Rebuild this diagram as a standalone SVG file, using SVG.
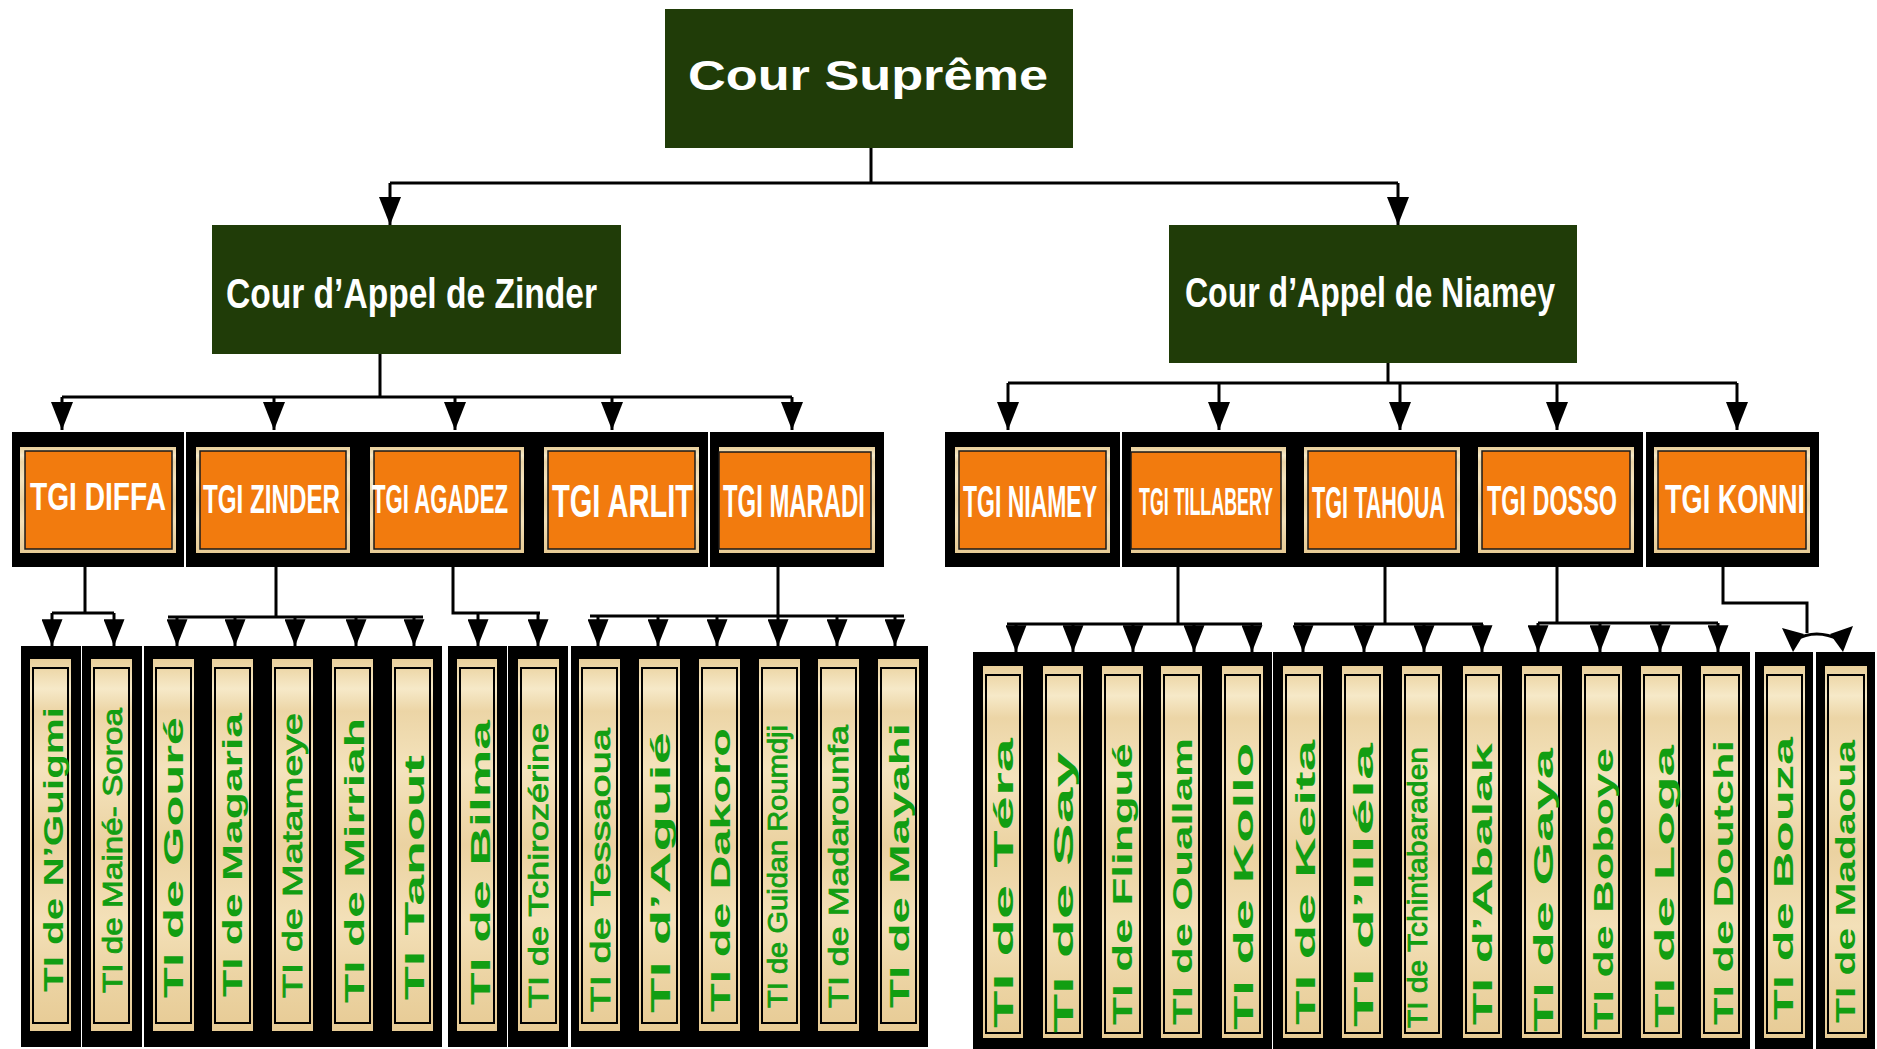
<svg xmlns="http://www.w3.org/2000/svg" width="1877" height="1049" viewBox="0 0 1877 1049">
<defs>
<linearGradient id="tan" x1="0" y1="0" x2="0" y2="1">
<stop offset="0" stop-color="#e9cf9a"/>
<stop offset="0.08" stop-color="#f6e9c8"/>
<stop offset="0.14" stop-color="#ecd5a6"/>
<stop offset="0.3" stop-color="#f4e3bd"/>
<stop offset="0.5" stop-color="#ebd2a1"/>
<stop offset="0.7" stop-color="#f3e0b8"/>
<stop offset="0.85" stop-color="#ecd4a4"/>
<stop offset="1" stop-color="#e7cb95"/>
</linearGradient>
<marker id="arr" viewBox="0 0 28 22" refX="28" refY="11" markerWidth="28" markerHeight="22" markerUnits="userSpaceOnUse" orient="auto">
<path d="M0,0 L28,11 L0,22 z" fill="#000"/>
</marker>
<marker id="arr2" viewBox="0 0 28 22" refX="28" refY="11" markerWidth="27" markerHeight="21" markerUnits="userSpaceOnUse" orient="auto">
<path d="M0,0 L28,11 L0,22 z" fill="#000"/>
</marker>
</defs>
<style>
.court{fill:#203c08}
.court-t{font-family:"Liberation Sans",Arial,sans-serif;font-weight:bold;fill:#fff}
.court-n{font-family:"Liberation Sans",Arial,sans-serif;font-weight:bold;fill:#fff}
.panel{fill:#000}
.frame{fill:url(#tan)}
.orange{fill:#f27b0e;stroke:#1a1a1a;stroke-width:1.5}
.tgi-t{font-family:"Liberation Sans",Arial,sans-serif;font-weight:bold;fill:#fff}
.strip{fill:url(#tan)}
.sline{fill:none;stroke:#000;stroke-width:2}
.ti{font-family:"Liberation Sans",Arial,sans-serif;font-weight:bold;fill:#129e12;font-size:28px}
.ti.n{font-weight:normal;stroke:#129e12;stroke-width:0.8}
.c{fill:none;stroke:#000;stroke-width:3}
.a{fill:none;stroke:#000;stroke-width:3;marker-end:url(#arr)}
.b{fill:none;stroke:#000;stroke-width:3;marker-end:url(#arr2)}
</style>
<rect width="1877" height="1049" fill="#fff"/>

<!-- Level 0 -->
<g id="cour-supreme">
<rect class="court" x="665" y="9" width="408" height="139"/>
<text class="court-t" x="688" y="90" font-size="42" textLength="360" lengthAdjust="spacingAndGlyphs">Cour Suprême</text>
</g>

<!-- Level 1 -->
<g id="ca-zinder">
<rect class="court" x="212" y="225" width="409" height="129"/>
<text class="court-n" transform="translate(226,308) scale(0.8,1)" font-size="42" textLength="463.8" lengthAdjust="spacingAndGlyphs">Cour d’Appel de Zinder</text>
</g>
<g id="ca-niamey">
<rect class="court" x="1169" y="225" width="408" height="138"/>
<text class="court-n" transform="translate(1185,307) scale(0.763,1)" font-size="42" textLength="484.9" lengthAdjust="spacingAndGlyphs">Cour d’Appel de Niamey</text>
</g>

<!-- TGI panels -->
<g id="tgi-panels">
<rect class="panel" x="12" y="432" width="172" height="135"/>
<rect class="panel" x="186" y="432" width="522" height="135"/>
<rect class="panel" x="710" y="432" width="174" height="135"/>
<rect class="panel" x="945" y="432" width="175" height="135"/>
<rect class="panel" x="1122" y="432" width="521" height="135"/>
<rect class="panel" x="1646" y="432" width="173" height="135"/>
</g>

<g id="tgi-diffa"><rect class="frame" x="20" y="447" width="156" height="106"/><rect class="orange" x="25" y="451" width="147" height="98"/>
<text class="tgi-t" transform="translate(30,510) scale(0.713,1)" font-size="39" textLength="190.7" lengthAdjust="spacingAndGlyphs">TGI DIFFA</text></g>
<g id="tgi-zinder"><rect class="frame" x="196" y="447" width="154" height="106"/><rect class="orange" x="200" y="451" width="146" height="98"/>
<text class="tgi-t" transform="translate(203,513) scale(0.59,1)" font-size="41" textLength="232.2" lengthAdjust="spacingAndGlyphs">TGI ZINDER</text></g>
<g id="tgi-agadez"><rect class="frame" x="370" y="447" width="154" height="106"/><rect class="orange" x="374" y="451" width="146" height="98"/>
<text class="tgi-t" transform="translate(372,513) scale(0.538,1)" font-size="41" textLength="252.8" lengthAdjust="spacingAndGlyphs">TGI AGADEZ</text></g>
<g id="tgi-arlit"><rect class="frame" x="544" y="447" width="155" height="106"/><rect class="orange" x="548" y="451" width="147" height="98"/>
<text class="tgi-t" transform="translate(552,517) scale(0.627,1)" font-size="46" textLength="224.9" lengthAdjust="spacingAndGlyphs">TGI ARLIT</text></g>
<g id="tgi-maradi"><rect class="frame" x="719" y="447" width="156" height="106"/><rect class="orange" x="719" y="452" width="152" height="97"/>
<text class="tgi-t" transform="translate(723,517) scale(0.519,1)" font-size="46" textLength="273.6" lengthAdjust="spacingAndGlyphs">TGI MARADI</text></g>

<g id="tgi-niamey"><rect class="frame" x="955" y="447" width="155" height="106"/><rect class="orange" x="959" y="451" width="147" height="98"/>
<text class="tgi-t" transform="translate(963,517) scale(0.522,1)" font-size="44" textLength="256.7" lengthAdjust="spacingAndGlyphs">TGI NIAMEY</text></g>
<g id="tgi-tillabery"><rect class="frame" x="1131" y="447" width="155" height="106"/><rect class="orange" x="1131" y="452" width="150" height="97"/>
<text class="tgi-t" transform="translate(1139,515) scale(0.467,1)" font-size="38" textLength="286.9" lengthAdjust="spacingAndGlyphs">TGI TILLABERY</text></g>
<g id="tgi-tahoua"><rect class="frame" x="1304" y="447" width="156" height="106"/><rect class="orange" x="1308" y="451" width="148" height="98"/>
<text class="tgi-t" transform="translate(1312,518) scale(0.475,1)" font-size="45" textLength="280" lengthAdjust="spacingAndGlyphs">TGI TAHOUA</text></g>
<g id="tgi-dosso"><rect class="frame" x="1478" y="447" width="156" height="106"/><rect class="orange" x="1482" y="451" width="148" height="98"/>
<text class="tgi-t" transform="translate(1487,515) scale(0.557,1)" font-size="42" textLength="233.4" lengthAdjust="spacingAndGlyphs">TGI DOSSO</text></g>
<g id="tgi-konni"><rect class="frame" x="1654" y="447" width="156" height="106"/><rect class="orange" x="1658" y="451" width="148" height="98"/>
<text class="tgi-t" transform="translate(1665,513) scale(0.677,1)" font-size="40" textLength="206.8" lengthAdjust="spacingAndGlyphs">TGI KONNI</text></g>

<!-- TI panels -->
<g id="ti-panels">
<rect class="panel" x="21" y="646" width="60" height="401"/>
<rect class="panel" x="82" y="646" width="60" height="401"/>
<rect class="panel" x="144" y="646" width="298" height="401"/>
<rect class="panel" x="448" y="646" width="59" height="401"/>
<rect class="panel" x="508" y="646" width="60" height="401"/>
<rect class="panel" x="571" y="646" width="357" height="401"/>
<rect class="panel" x="973" y="652" width="299" height="397"/>
<rect class="panel" x="1273" y="652" width="477" height="397"/>
<rect class="panel" x="1755" y="652" width="58" height="397"/>
<rect class="panel" x="1816" y="652" width="59" height="397"/>
</g>

<!-- TI left -->
<g id="ti-nguigmi"><rect class="strip" x="30" y="659" width="41" height="372"/><rect class="sline" x="33" y="668" width="35" height="355"/>
<text class="ti" transform="translate(63,992) rotate(-90)" font-size="29" textLength="285" lengthAdjust="spacingAndGlyphs">TI de N’Guigmi</text></g>
<g id="ti-maine-soroa"><rect class="strip" x="91" y="659" width="41" height="372"/><rect class="sline" x="94" y="668" width="35" height="355"/>
<text class="ti n" transform="translate(122,993) rotate(-90)" font-size="30" textLength="285" lengthAdjust="spacingAndGlyphs">TI de Mainé- Soroa</text></g>
<g id="ti-goure"><rect class="strip" x="153" y="659" width="41" height="372"/><rect class="sline" x="156" y="668" width="35" height="355"/>
<text class="ti" transform="translate(183,998) rotate(-90)" textLength="281" lengthAdjust="spacingAndGlyphs">TI de Gouré</text></g>
<g id="ti-magaria"><rect class="strip" x="212" y="659" width="41" height="372"/><rect class="sline" x="215" y="668" width="35" height="355"/>
<text class="ti" transform="translate(242,997) rotate(-90)" textLength="284" lengthAdjust="spacingAndGlyphs">TI de Magaria</text></g>
<g id="ti-matameye"><rect class="strip" x="272" y="659" width="41" height="372"/><rect class="sline" x="275" y="668" width="35" height="355"/>
<text class="ti n" transform="translate(302,998) rotate(-90)" textLength="285" lengthAdjust="spacingAndGlyphs">TI de Matameye</text></g>
<g id="ti-mirriah"><rect class="strip" x="332" y="659" width="41" height="372"/><rect class="sline" x="335" y="668" width="35" height="355"/>
<text class="ti" transform="translate(364,1003) rotate(-90)" textLength="285" lengthAdjust="spacingAndGlyphs">TI de Mirriah</text></g>
<g id="ti-tanout"><rect class="strip" x="392" y="659" width="41" height="372"/><rect class="sline" x="395" y="668" width="35" height="355"/>
<text class="ti" transform="translate(424,1000) rotate(-90)" textLength="245" lengthAdjust="spacingAndGlyphs">TI Tanout</text></g>
<g id="ti-bilma"><rect class="strip" x="457" y="659" width="40" height="372"/><rect class="sline" x="460" y="668" width="34" height="355"/>
<text class="ti" transform="translate(490,1005) rotate(-90)" font-size="30" textLength="285" lengthAdjust="spacingAndGlyphs">TI de Bilma</text></g>
<g id="ti-tchirozerine"><rect class="strip" x="518" y="659" width="41" height="372"/><rect class="sline" x="521" y="668" width="35" height="355"/>
<text class="ti n" transform="translate(548,1008) rotate(-90)" textLength="285" lengthAdjust="spacingAndGlyphs">TI de Tchirozérine</text></g>
<g id="ti-tessaoua"><rect class="strip" x="579" y="659" width="41" height="372"/><rect class="sline" x="582" y="668" width="35" height="355"/>
<text class="ti n" transform="translate(610,1012) rotate(-90)" textLength="284" lengthAdjust="spacingAndGlyphs">TI de Tessaoua</text></g>
<g id="ti-aguie"><rect class="strip" x="639" y="659" width="41" height="372"/><rect class="sline" x="642" y="668" width="35" height="355"/>
<text class="ti" transform="translate(670,1013) rotate(-90)" font-size="29" textLength="281" lengthAdjust="spacingAndGlyphs">TI d’Aguié</text></g>
<g id="ti-dakoro"><rect class="strip" x="699" y="659" width="41" height="372"/><rect class="sline" x="702" y="668" width="35" height="355"/>
<text class="ti" transform="translate(730,1012) rotate(-90)" textLength="284" lengthAdjust="spacingAndGlyphs">TI de Dakoro</text></g>
<g id="ti-guidan-roumdji"><rect class="strip" x="759" y="659" width="41" height="372"/><rect class="sline" x="762" y="668" width="35" height="355"/>
<text class="ti n" transform="translate(787,1008) rotate(-90)" font-size="24" textLength="283" lengthAdjust="spacingAndGlyphs">TI de Guidan Roumdji</text></g>
<g id="ti-madarounfa"><rect class="strip" x="818" y="659" width="41" height="372"/><rect class="sline" x="821" y="668" width="35" height="355"/>
<text class="ti n" transform="translate(848,1008) rotate(-90)" textLength="283" lengthAdjust="spacingAndGlyphs">TI de Madarounfa</text></g>
<g id="ti-mayahi"><rect class="strip" x="878" y="659" width="41" height="372"/><rect class="sline" x="881" y="668" width="35" height="355"/>
<text class="ti" transform="translate(909,1008) rotate(-90)" textLength="285" lengthAdjust="spacingAndGlyphs">TI de Mayahi</text></g>

<!-- TI right -->
<g id="ti-tera"><rect class="strip" x="983" y="666" width="40" height="372"/><rect class="sline" x="986" y="675" width="34" height="358"/>
<text class="ti" transform="translate(1013,1028) rotate(-90)" font-size="29" textLength="290" lengthAdjust="spacingAndGlyphs">TI de Téra</text></g>
<g id="ti-say"><rect class="strip" x="1043" y="666" width="40" height="372"/><rect class="sline" x="1046" y="675" width="34" height="358"/>
<text class="ti" transform="translate(1073,1033) rotate(-90)" font-size="29" textLength="281" lengthAdjust="spacingAndGlyphs">TI de Say</text></g>
<g id="ti-filingue"><rect class="strip" x="1102" y="666" width="41" height="372"/><rect class="sline" x="1105" y="675" width="35" height="358"/>
<text class="ti" transform="translate(1132,1025) rotate(-90)" textLength="282" lengthAdjust="spacingAndGlyphs">TI de Flingué</text></g>
<g id="ti-ouallam"><rect class="strip" x="1161" y="666" width="41" height="372"/><rect class="sline" x="1164" y="675" width="35" height="358"/>
<text class="ti" transform="translate(1192,1025) rotate(-90)" textLength="287" lengthAdjust="spacingAndGlyphs">TI de Ouallam</text></g>
<g id="ti-kollo"><rect class="strip" x="1222" y="666" width="41" height="372"/><rect class="sline" x="1225" y="675" width="35" height="358"/>
<text class="ti" transform="translate(1253,1030) rotate(-90)" font-size="29" textLength="287" lengthAdjust="spacingAndGlyphs">TI de Kollo</text></g>
<g id="ti-keita"><rect class="strip" x="1283" y="666" width="40" height="372"/><rect class="sline" x="1286" y="675" width="34" height="358"/>
<text class="ti" transform="translate(1315,1025) rotate(-90)" font-size="31" textLength="285" lengthAdjust="spacingAndGlyphs">TI de Keita</text></g>
<g id="ti-illela"><rect class="strip" x="1342" y="666" width="41" height="372"/><rect class="sline" x="1345" y="675" width="35" height="358"/>
<text class="ti" transform="translate(1373,1027) rotate(-90)" font-size="29" textLength="284" lengthAdjust="spacingAndGlyphs">TI d’Illéla</text></g>
<g id="ti-tchintabaraden"><rect class="strip" x="1402" y="666" width="40" height="372"/><rect class="sline" x="1405" y="675" width="34" height="358"/>
<text class="ti n" transform="translate(1427,1028) rotate(-90)" font-size="21" textLength="281" lengthAdjust="spacingAndGlyphs">TI de Tchintabaraden</text></g>
<g id="ti-abalak"><rect class="strip" x="1463" y="666" width="39" height="372"/><rect class="sline" x="1466" y="675" width="33" height="358"/>
<text class="ti" transform="translate(1492,1025) rotate(-90)" textLength="282" lengthAdjust="spacingAndGlyphs">TI d’Abalak</text></g>
<g id="ti-gaya"><rect class="strip" x="1522" y="666" width="40" height="372"/><rect class="sline" x="1525" y="675" width="34" height="358"/>
<text class="ti" transform="translate(1553,1032) rotate(-90)" font-size="29" textLength="284" lengthAdjust="spacingAndGlyphs">TI de Gaya</text></g>
<g id="ti-boboye"><rect class="strip" x="1582" y="666" width="40" height="372"/><rect class="sline" x="1585" y="675" width="34" height="358"/>
<text class="ti" transform="translate(1613,1030) rotate(-90)" textLength="282" lengthAdjust="spacingAndGlyphs">TI de Boboye</text></g>
<g id="ti-loga"><rect class="strip" x="1641" y="666" width="41" height="372"/><rect class="sline" x="1644" y="675" width="35" height="358"/>
<text class="ti" transform="translate(1674,1028) rotate(-90)" font-size="30" textLength="283" lengthAdjust="spacingAndGlyphs">TI de Loga</text></g>
<g id="ti-doutchi"><rect class="strip" x="1701" y="666" width="41" height="372"/><rect class="sline" x="1704" y="675" width="35" height="358"/>
<text class="ti" transform="translate(1733,1025) rotate(-90)" textLength="285" lengthAdjust="spacingAndGlyphs">TI de Doutchi</text></g>
<g id="ti-bouza"><rect class="strip" x="1764" y="666" width="41" height="372"/><rect class="sline" x="1767" y="675" width="35" height="358"/>
<text class="ti" transform="translate(1793,1020) rotate(-90)" textLength="283" lengthAdjust="spacingAndGlyphs">TI de Bouza</text></g>
<g id="ti-madaoua"><rect class="strip" x="1825" y="666" width="42" height="372"/><rect class="sline" x="1828" y="675" width="36" height="358"/>
<text class="ti" transform="translate(1855,1023) rotate(-90)" textLength="283" lengthAdjust="spacingAndGlyphs">TI de Madaoua</text></g>

<!-- Connectors -->
<g id="connectors">
<path class="c" d="M871,148 V183 M390,183 H1398"/>
<path class="a" d="M390,183 V225"/>
<path class="a" d="M1398,183 V225"/>

<path class="c" d="M380,354 V397 M62,397 H792"/>
<path class="a" d="M62,397 V430"/><path class="a" d="M274,397 V430"/><path class="a" d="M455,397 V430"/><path class="a" d="M612,397 V430"/><path class="a" d="M792,397 V430"/>

<path class="c" d="M1388,363 V383 M1008,383 H1737"/>
<path class="a" d="M1008,383 V430"/><path class="a" d="M1219,383 V430"/><path class="a" d="M1400,383 V430"/><path class="a" d="M1557,383 V430"/><path class="a" d="M1737,383 V430"/>

<path class="c" d="M85,567 V613 M52,613 H114"/>
<path class="b" d="M52,613 V646"/><path class="b" d="M114,613 V646"/>

<path class="c" d="M276,567 V617 M168,617 H423"/>
<path class="b" d="M177,617 V646"/><path class="b" d="M235,617 V646"/><path class="b" d="M295,617 V646"/><path class="b" d="M356,617 V646"/><path class="b" d="M414,617 V646"/>

<path class="c" d="M453,567 V613 H540"/>
<path class="b" d="M478,613 V646"/><path class="b" d="M538,613 V646"/>

<path class="c" d="M778,567 V616 M590,616 H904"/>
<path class="b" d="M598,616 V646"/><path class="b" d="M658,616 V646"/><path class="b" d="M717,616 V646"/><path class="b" d="M778,616 V646"/><path class="b" d="M837,616 V646"/><path class="b" d="M895,616 V646"/>

<path class="c" d="M1178,567 V624 M1007,624 H1262"/>
<path class="b" d="M1016,624 V652"/><path class="b" d="M1073,624 V652"/><path class="b" d="M1133,624 V652"/><path class="b" d="M1194,624 V652"/><path class="b" d="M1252,624 V652"/>

<path class="c" d="M1385,567 V624 M1294,624 H1483"/>
<path class="b" d="M1303,624 V652"/><path class="b" d="M1364,624 V652"/><path class="b" d="M1424,624 V652"/><path class="b" d="M1482,624 V652"/>

<path class="c" d="M1557,567 V623 M1538,623 H1718"/>
<path class="b" d="M1538,623 V652"/><path class="b" d="M1600,623 V652"/><path class="b" d="M1660,623 V652"/><path class="b" d="M1718,623 V652"/>

<path class="c" d="M1723,567 V603 H1807 V633 M1795,640 Q1816,628 1840,640"/>
<polygon points="1782,628 1804,634 1793,652" fill="#000"/>
<polygon points="1830,634 1853,626 1843,652" fill="#000"/>
</g>
</svg>
